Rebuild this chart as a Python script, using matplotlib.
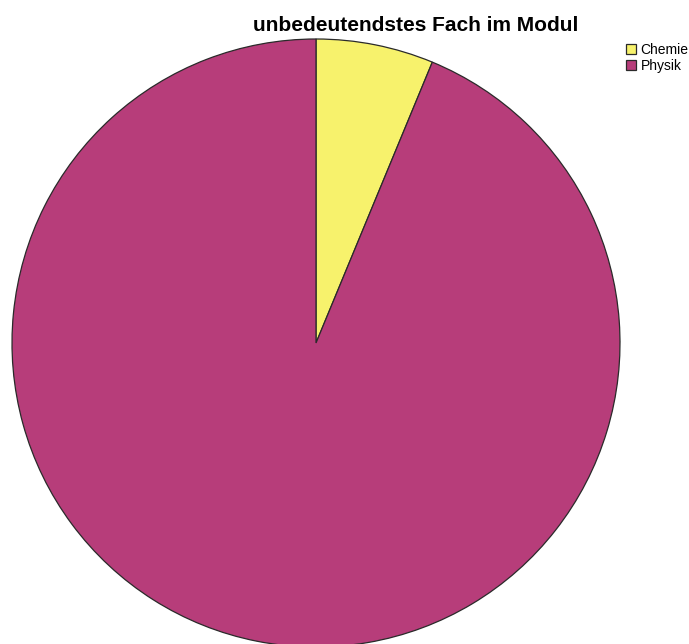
import matplotlib
matplotlib.use("Agg")
import matplotlib.pyplot as plt

categories = ["Chemie", "Physik"]
counts = [1, 15]
colors = ["#F7F26C", "#B73D7A"]
title = "unbedeutendstes Fach im Modul"

W, H = 689, 644
fig = plt.figure(figsize=(W / 100, H / 100), dpi=100)
fig.patch.set_facecolor("white")

# pie area in pixels: centre (316, 343), radius 304
cx, cy, r = 316, 343, 304
ax = fig.add_axes([(cx - r) / W, (H - (cy + r)) / H, 2 * r / W, 2 * r / H])
wedges, _ = ax.pie(counts, colors=colors, startangle=90, counterclock=False,
                   radius=1.0,
                   wedgeprops=dict(edgecolor="#2a2a2a", linewidth=0.9))
ax.set_xlim(-1.0, 1.0)
ax.set_ylim(-1.0, 1.0)
ax.set_aspect("equal")
ax.axis("off")

fig.text(416 / W, 1 - 31 / H, title, ha="center", va="baseline",
         fontsize=15, fontweight="bold", family="Liberation Sans")

leg = fig.legend(wedges, categories, loc="upper left",
                 bbox_to_anchor=(626 / W, 1 - 43 / H),
                 frameon=False, prop=dict(family="Liberation Sans", size=10),
                 handlelength=0.75, handleheight=0.75, handletextpad=0.3,
                 labelspacing=0.15, borderaxespad=0, borderpad=0)

fig.savefig("out.png", dpi=100, facecolor="white")
